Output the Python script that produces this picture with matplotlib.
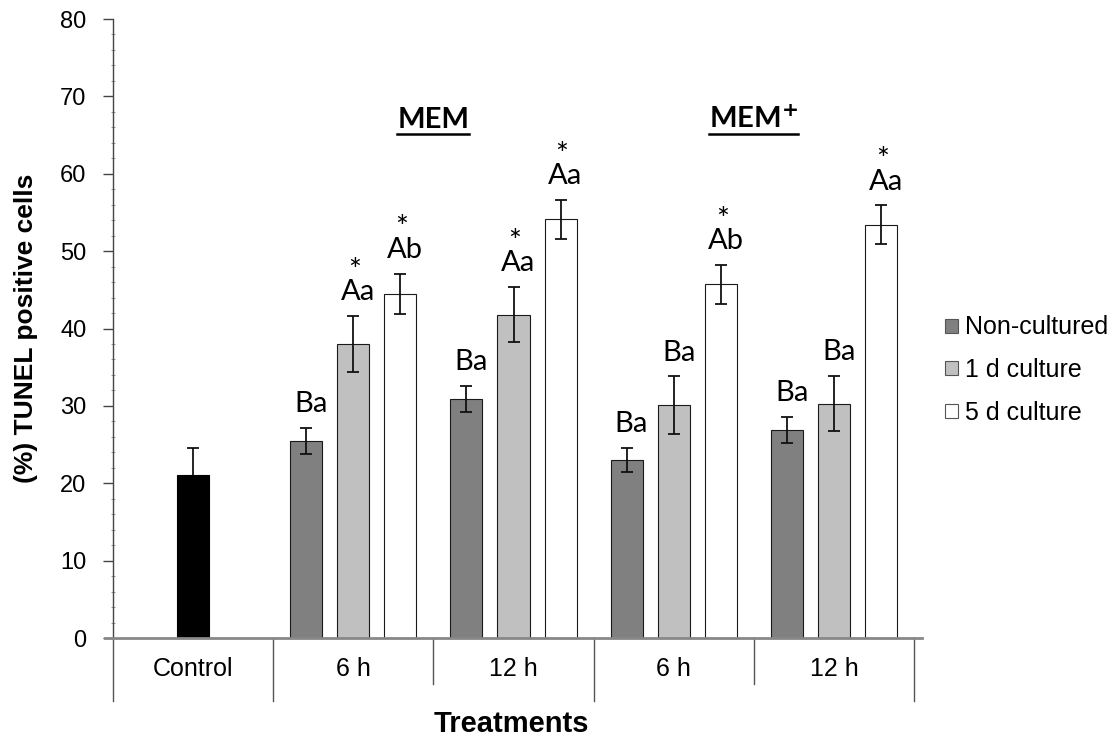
import numpy as np
import matplotlib
matplotlib.use("Agg")
import matplotlib.pyplot as plt
from matplotlib.patches import Patch
from matplotlib.ticker import MultipleLocator

matplotlib.rcParams['font.family'] = ['Liberation Sans', 'DejaVu Sans']

# ---- data ----
groups = ["Control", "6 h", "12 h", "6 h", "12 h"]
media = ["MEM", "MEM$^{\\mathbf{+}}$"]
series = ["Non-cultured", "1 d culture", "5 d culture"]

control_mean = 21.1
control_err = 3.5

# rows: Non-cultured, 1 d culture, 5 d culture ; columns: MEM 6h, MEM 12h, MEM+ 6h, MEM+ 12h
means = np.array([
    [25.5, 30.9, 23.0, 26.9],
    [38.0, 41.8, 30.1, 30.3],
    [44.5, 54.1, 45.7, 53.4],
])
errs = np.array([
    [1.7, 1.7, 1.6, 1.7],
    [3.6, 3.6, 3.7, 3.6],
    [2.6, 2.5, 2.5, 2.5],
])
letters = [
    ["Ba", "Ba", "Ba", "Ba"],
    ["Aa", "Aa", "Ba", "Ba"],
    ["Ab", "Aa", "Ab", "Aa"],
]
stars = [
    [False, False, False, False],
    [True, True, False, False],
    [True, True, True, True],
]

colors = ["#808080", "#c0c0c0", "#ffffff"]
annot_font = ['Lato', 'DejaVu Sans']

fig = plt.figure(figsize=(11.2, 7.4), dpi=100)
ax = fig.add_axes([0.1009, 0.1378, 0.7152, 0.8365])

width = 0.2
offset = 0.294
centers = np.arange(1, 5) + 0.5

# control bar
ax.bar(0.5, control_mean, width, color="black", edgecolor="black", linewidth=0.8, zorder=2)
ax.errorbar(0.5, control_mean, yerr=control_err, fmt="none", ecolor="black",
            elinewidth=1.2, capsize=4, capthick=1.2, zorder=3)

for i in range(3):
    x = centers + (i - 1) * offset
    ax.bar(x, means[i], width, color=colors[i], edgecolor="#1a1a1a", linewidth=0.8, zorder=2)
    ax.errorbar(x, means[i], yerr=errs[i], fmt="none", ecolor="#111111",
                elinewidth=1.3, capsize=4, capthick=1.3, zorder=3)
    for j in range(4):
        top = means[i][j] + errs[i][j]
        ax.annotate(letters[i][j], (x[j], top), xytext=(3.5, 11.5), textcoords="offset points",
                    ha="center", va="baseline", fontsize=21, family=annot_font)
        if stars[i][j]:
            ax.annotate("*", (x[j], top), xytext=(1, 26), textcoords="offset points",
                        ha="center", va="baseline", fontsize=22, family=annot_font)

# medium headings, underlined to the width of the text
headings = []
for k, name in enumerate(media):
    headings.append(ax.text(2 + 2 * k, 65.9, name, ha="center", va="baseline", fontsize=21,
                            fontweight="bold", family=annot_font))

ax.set_xlim(0, 5)
ax.set_ylim(0, 80)
ax.yaxis.set_major_locator(MultipleLocator(10))
ax.yaxis.set_minor_locator(MultipleLocator(2))
ax.tick_params(axis="y", which="major", direction="out", length=7, width=1,
               color="#444444", labelsize=17, pad=12)
ax.tick_params(axis="y", which="minor", direction="inout", length=3, width=0.6, color="#888888")
ax.set_xticks([])

for s in ["top", "right", "bottom"]:
    ax.spines[s].set_visible(False)
ax.spines["left"].set_color("#444444")
ax.spines["left"].set_linewidth(1)

# baseline
ax.plot([-0.05, 5.05], [0, 0], color="#888888", lw=2, clip_on=False, zorder=4)

# category labels and separators
for k, g in enumerate(groups):
    ax.text(k + 0.5, -4.0, g, ha="center", va="center", fontsize=18)
sep_len = [-8.2, -8.2, -5.9, -8.2, -5.9, -8.2]
for k, yl in enumerate(sep_len):
    ax.plot([k, k], [0, yl], color="#555555", lw=1, clip_on=False)

ax.set_ylabel("(%) TUNEL positive cells", fontsize=19, fontweight="bold", labelpad=16)
fig.text(0.457, 0.022, "Treatments", ha="center", va="center", fontsize=21, fontweight="bold")

handles = [Patch(facecolor=c, edgecolor="#555555", linewidth=0.8) for c in colors]
fig.legend(handles, series, loc="center left", bbox_to_anchor=(0.8438, 0.5),
           frameon=False, fontsize=18, handlelength=0.5, handleheight=0.5,
           handletextpad=0.3, labelspacing=0.74, borderpad=0, borderaxespad=0)

fig.canvas.draw()
inv = ax.transData.inverted()
for t in headings:
    bb = t.get_window_extent()
    (x0, _), (x1, _) = inv.transform([(bb.x0, 0), (bb.x1, 0)])
    ax.plot([x0, x1], [65.2, 65.2], color="black", lw=1.8)

fig.savefig("out.png", dpi=100)
